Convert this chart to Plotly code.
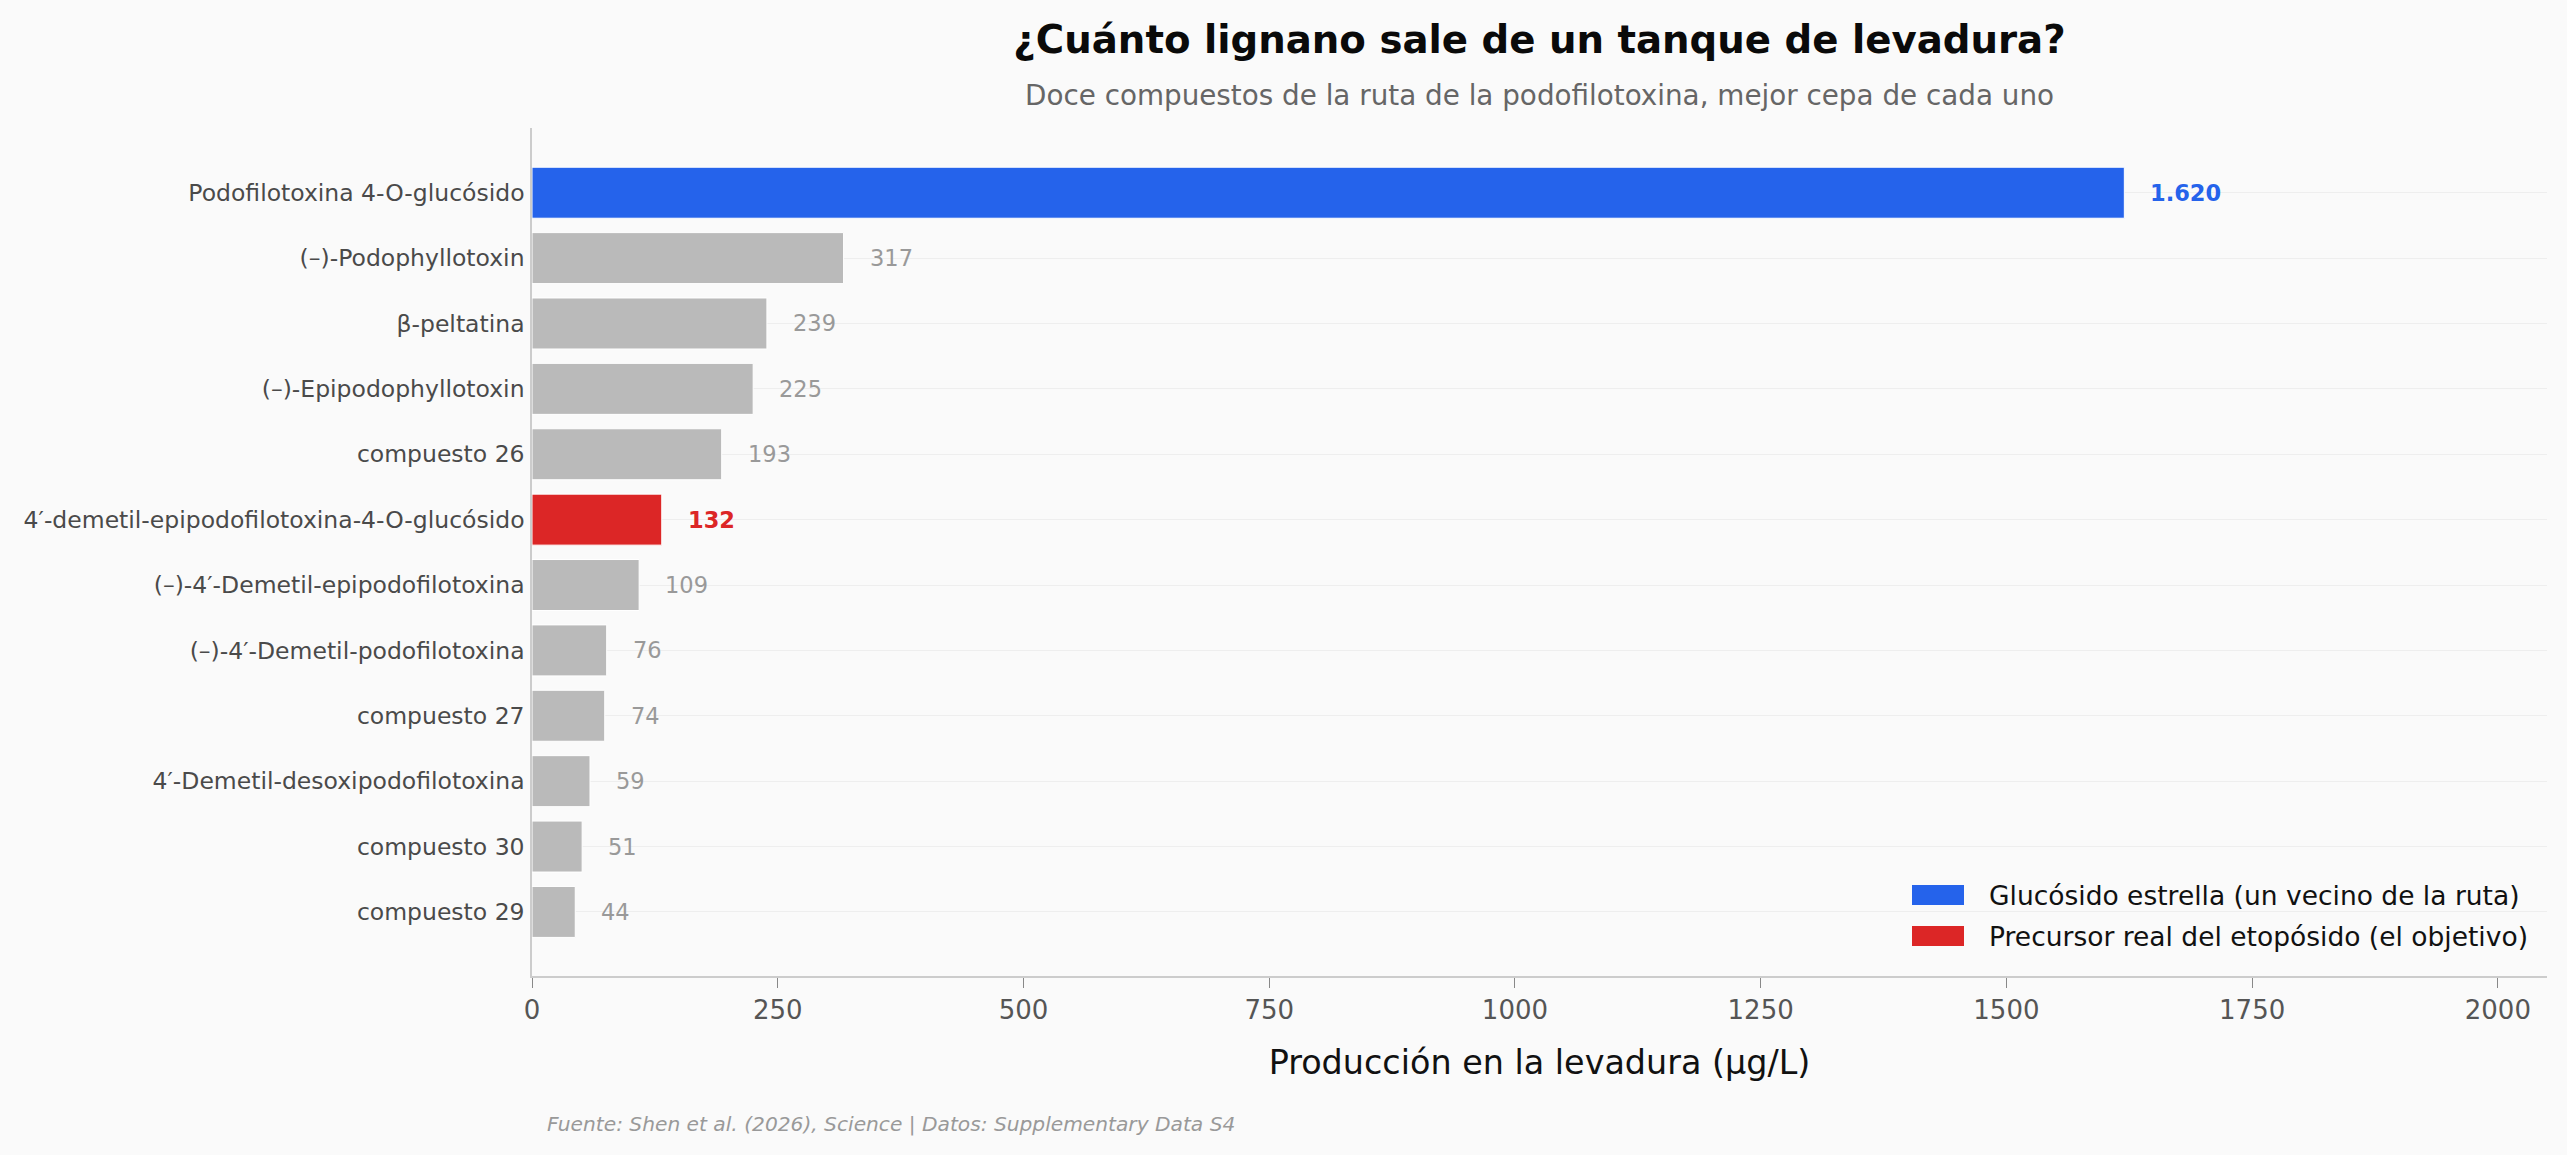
import plotly.graph_objects as go

W, H = 2567, 1155

compounds = [
    "Podofilotoxina 4-O-glucósido",
    "(–)-Podophyllotoxin",
    "β-peltatina",
    "(–)-Epipodophyllotoxin",
    "compuesto 26",
    "4′-demetil-epipodofilotoxina-4-O-glucósido",
    "(–)-4′-Demetil-epipodofilotoxina",
    "(–)-4′-Demetil-podofilotoxina",
    "compuesto 27",
    "4′-Demetil-desoxipodofilotoxina",
    "compuesto 30",
    "compuesto 29",
]
production = [1620, 317, 239, 225, 193, 132, 109, 76, 74, 59, 51, 44]
value_labels = ["1.620", "317", "239", "225", "193", "132", "109", "76", "74", "59", "51", "44"]
highlight = ["star", "", "", "", "", "target", "", "", "", "", "", ""]

legend_names = ["Glucósido estrella (un vecino de la ruta)",
                "Precursor real del etopósido (el objetivo)"]

x_ticks = [0, 250, 500, 750, 1000, 1250, 1500, 1750, 2000]

BLUE = "#2563EB"
RED = "#DC2626"
GRAY = "#BABABA"
FONT = "DejaVu Sans"

L, R, T, B = 532, 20, 128, 179
PW, PH = W - L - R, H - T - B


def px_to_paper(px, py):
    return (px - L) / PW, (H - B - py) / PH


def pick(kind):
    return [v if h == kind else None for v, h in zip(production, highlight)]


fig = go.Figure()
common = dict(orientation="h", y=compounds, width=0.78,
              marker_line=dict(color="white", width=1), showlegend=False)
fig.add_trace(go.Bar(x=pick(""), marker_color=GRAY, **common))
fig.add_trace(go.Bar(x=pick("star"), marker_color=BLUE, name=legend_names[0], **common))
fig.add_trace(go.Bar(x=pick("target"), marker_color=RED, name=legend_names[1], **common))

for c, v, lab, h in zip(compounds, production, value_labels, highlight):
    if h == "star":
        col, bold = BLUE, True
    elif h == "target":
        col, bold = RED, True
    else:
        col, bold = "#999999", False
    fig.add_annotation(x=v, y=c, xref="x", yref="y", text=f"<b>{lab}</b>" if bold else lab,
                       showarrow=False, xanchor="left", xshift=24,
                       font=dict(family=FONT, size=22.5, color=col))

# legend (drawn as a guide: swatches + labels, lower right inside the plot)
for i, (name, col) in enumerate(zip(legend_names, [BLUE, RED])):
    cy = 895 + i * 41
    x0, y0 = px_to_paper(1912, cy - 10)
    x1, y1 = px_to_paper(1964, cy + 10)
    fig.add_shape(type="rect", xref="paper", yref="paper", x0=x0, x1=x1, y0=y1, y1=y0,
                  fillcolor=col, line=dict(width=0))
    tx, ty = px_to_paper(1987, cy)
    fig.add_annotation(text=name, xref="paper", yref="paper", x=tx, y=ty,
                       xanchor="left", yanchor="middle", showarrow=False,
                       font=dict(family=FONT, size=26.5, color="#111111"))

fig.update_layout(
    width=W, height=H,
    barmode="relative",
    paper_bgcolor="#FAFAFA", plot_bgcolor="#FAFAFA",
    margin=dict(l=L, r=R, t=T, b=B),
    font=dict(family=FONT, color="#444444"),
    title=dict(text="<b>¿Cuánto lignano sale de un tanque de levadura?</b>",
               x=0.5, xref="paper", y=1 - 39 / H, yref="container",
               xanchor="center", yanchor="middle",
               font=dict(family=FONT, size=38.7, color="#0A0A0A")),
    showlegend=False,
)
sx, sy = px_to_paper(0, 95)
fig.add_annotation(text="Doce compuestos de la ruta de la podofilotoxina, mejor cepa de cada uno",
                   xref="paper", x=0.5, yref="paper", y=sy,
                   xanchor="center", yanchor="middle", showarrow=False,
                   font=dict(family=FONT, size=27.8, color="#666666"))
fx, fy = px_to_paper(545, 1124)
fig.add_annotation(text="<i>Fuente: Shen et al. (2026), Science | Datos: Supplementary Data S4</i>",
                   xref="paper", x=fx, yref="paper", y=fy,
                   xanchor="left", yanchor="middle", showarrow=False,
                   font=dict(family=FONT, size=20.2, color="#999999"))

fig.update_xaxes(range=[0, 2050], tickvals=x_ticks, ticktext=[str(t) for t in x_ticks],
                 showgrid=False, zeroline=False,
                 showline=True, linecolor="#CCCCCC", linewidth=1.5,
                 ticks="outside", ticklen=10, tickcolor="#888888", tickwidth=1,
                 tickfont=dict(family=FONT, size=26, color="#555555"),
                 title=dict(text="Producción en la levadura (µg/L)", standoff=27,
                            font=dict(family=FONT, size=33.4, color="#111111")))
fig.update_yaxes(categoryorder="array", categoryarray=compounds,
                 range=[len(compounds) - 1 + 0.98, -0.99],
                 showgrid=True, gridcolor="#EEEEEE", gridwidth=1,
                 zeroline=False, showline=True, linecolor="#CCCCCC", linewidth=1.5,
                 ticks="", ticklabelstandoff=1,
                 tickfont=dict(family=FONT, size=23.5, color="#4A4A4A"))

fig.write_html("out.html")
